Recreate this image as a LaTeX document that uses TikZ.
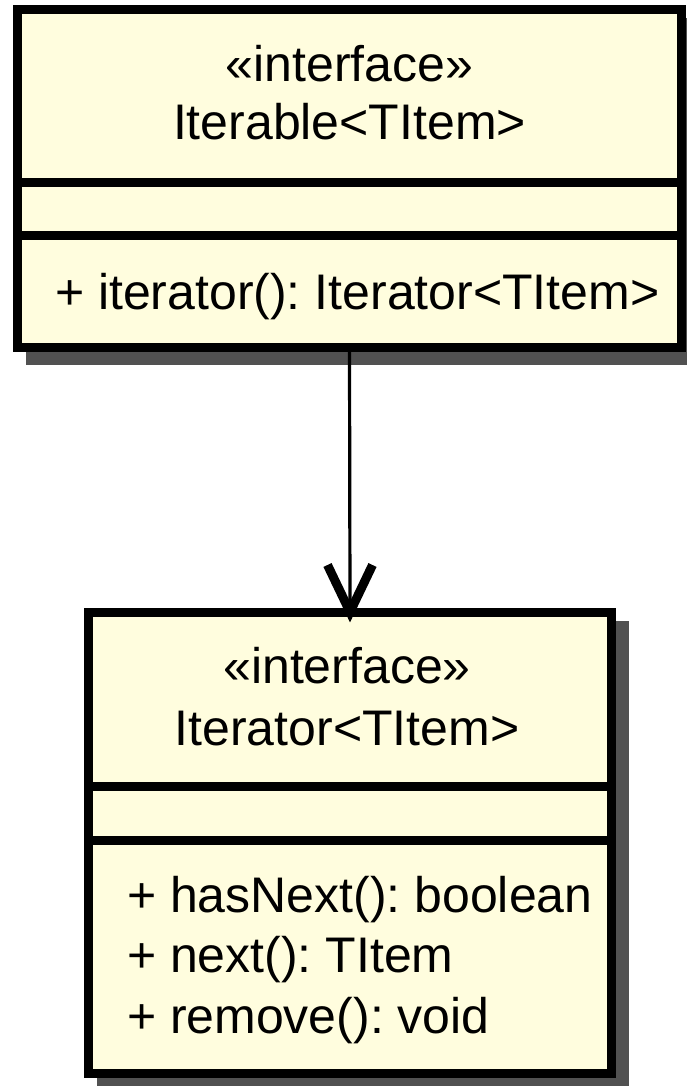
\documentclass[tikz,border=0pt]{standalone}
\usepackage{fontspec}
\setmainfont{Liberation Sans}
\usetikzlibrary{calc,backgrounds}
\definecolor{umlfill}{HTML}{FFFDDE}
\definecolor{umlshadow}{HTML}{515151}
\frenchspacing
\begin{document}
\begin{tikzpicture}[x=1pt,y=-1pt,
  classbox/.style={draw=black, line width=9pt, fill=umlfill, rectangle, inner sep=0pt},
  divider/.style={draw=black, line width=9pt},
  txt/.style={inner sep=0pt, outer sep=0pt, anchor=base, font=\fontsize{50pt}{60pt}\selectfont},
  mtxt/.style={txt, anchor=base west},
  conn/.style={draw=black, line width=3.2pt},
  vhead/.style={draw=black, line width=9pt, line join=miter, line cap=butt},
  shadowfill/.style={fill=umlshadow}]
\useasboundingbox (0,0) rectangle (686,1086);
\clip (0,0) rectangle (686,1086);

% class boxes
\node[classbox, minimum width=664pt, minimum height=337.5pt] (iterable) at (349.5,178.75) {};
\node[classbox, minimum width=523pt, minimum height=460.5pt] (iterator) at (350,842.75) {};

% shadows
\begin{scope}[on background layer]
  \fill[shadowfill] ($(iterable.north west)+(13,13)$) rectangle ($(iterable.south east)+(13,13)$);
  \fill[shadowfill] ($(iterator.north west)+(13,13)$) rectangle ($(iterator.south east)+(13,13)$);
\end{scope}

% compartments of Iterable
\draw[divider] (iterable.west |- 0,183) -- (iterable.east |- 0,183);
\draw[divider] (iterable.west |- 0,235) -- (iterable.east |- 0,235);
\node[txt] (st1) at (349.5,82) {«interface»};
\node[txt] (n1) at (349.5,140) {Iterable<TItem>};
\node[mtxt] (m1) at (55,309) {+ iterator(): Iterator<TItem>};

% compartments of Iterator
\draw[divider] (iterator.west |- 0,786.5) -- (iterator.east |- 0,786.5);
\draw[divider] (iterator.west |- 0,840) -- (iterator.east |- 0,840);
\node[txt] (st2) at (347,683) {«interface»};
\node[txt] (n2) at (347,745) {Iterator<TItem>};
\node[mtxt] (m2) at (127,912) {+ hasNext(): boolean};
\node[mtxt] (m3) at (127,972) {+ next(): TItem};
\node[mtxt] (m4) at (127,1033) {+ remove(): void};

% dependency arrow
\draw[conn] (iterable.south) -- (iterator.north);
\draw[vhead] ($(iterator.north)+(-22.5,-43)$) -- ($(iterator.north)+(0,4)$) -- ($(iterator.north)+(22.5,-43)$);
\end{tikzpicture}
\end{document}
